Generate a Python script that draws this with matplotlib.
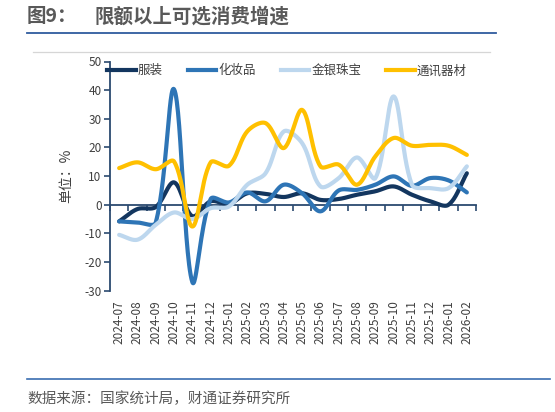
import numpy as np
import matplotlib
matplotlib.use("Agg")
from matplotlib import pyplot as plt
from matplotlib.lines import Line2D

plt.rcParams["font.family"] = ["Noto Sans CJK SC", "DejaVu Sans"]
plt.rcParams["axes.unicode_minus"] = False

# months on the x axis
months = [
    "2024-07", "2024-08", "2024-09", "2024-10", "2024-11", "2024-12",
    "2025-01", "2025-02", "2025-03", "2025-04", "2025-05", "2025-06",
    "2025-07", "2025-08", "2025-09", "2025-10", "2025-11", "2025-12",
    "2026-01", "2026-02",
]

# year-on-year growth, %
clothing = [-5.8, -1.5, -0.8, 7.8, -4.0, 1.2, 0.3, 4.0, 3.8, 2.7,
            4.0, 1.7, 2.0, 3.5, 4.7, 6.4, 3.5, 1.2, 0.0, 11.0]
cosmetics = [-5.8, -6.2, -6.2, 40.3, -27.0, 2.0, 0.8, 4.3, 1.2, 7.0,
             4.0, -2.3, 5.0, 5.2, 7.0, 9.9, 6.6, 9.3, 8.5, 4.3]
jewelry = [-10.5, -12.2, -7.0, -2.7, -5.0, -1.2, -0.6, 7.0, 11.0, 25.6,
           21.5, 6.4, 9.3, 16.5, 9.3, 37.8, 7.0, 5.8, 5.8, 13.4]
telecom = [12.8, 14.8, 12.4, 15.1, -7.6, 14.8, 13.6, 25.6, 28.5, 19.8,
           33.1, 13.4, 14.0, 7.0, 16.9, 23.3, 20.6, 20.9, 20.6, 17.4]

series = [
    ("服装", clothing, "#13365f"),
    ("化妆品", cosmetics, "#2e75b6"),
    ("金银珠宝", jewelry, "#bdd7ee"),
    ("通讯器材", telecom, "#ffc000"),
]

# rough pixel size of one category / one percent, used to weight the smoothing
PX_X, PX_Y = 18.3, 2.865


def smooth(y, n=30):
    """Excel-like smoothed line, control points weighted by segment length"""
    y = np.asarray(y, dtype=float)
    x = np.arange(len(y), dtype=float)
    pts = np.column_stack([x, y])
    padded = np.vstack([pts[0], pts, pts[-1]])
    scale = np.array([PX_X, PX_Y])

    def dist(a, b):
        return np.hypot(*((b - a) * scale)) + 1e-9

    out = []
    t = np.linspace(0, 1, n)[:, None]
    for i in range(len(pts) - 1):
        p0, p1, p2, p3 = padded[i], padded[i + 1], padded[i + 2], padded[i + 3]
        d01, d12, d23 = dist(p0, p1), dist(p1, p2), dist(p2, p3)
        c1 = p1 + (p2 - p0) * d12 / (d01 + d12) / 3
        c2 = p2 - (p3 - p1) * d12 / (d12 + d23) / 3
        seg = ((1 - t) ** 3) * p1 + 3 * ((1 - t) ** 2) * t * c1 \
            + 3 * (1 - t) * t ** 2 * c2 + t ** 3 * p2
        out.append(seg if i == 0 else seg[1:])
    out = np.vstack(out)
    return out[:, 0], out[:, 1]


fig = plt.figure(figsize=(5.55, 4.12), dpi=100)
ax = fig.add_axes([110 / 555, 121.3 / 412, 366 / 555, 229.2 / 412])

axis_color = "#2b4a6f"
text_color = "#404040"

for i, (name, vals, color) in enumerate(series):
    sx, sy = smooth(vals)
    ax.plot(sx, sy, color=color, lw=3, solid_capstyle="round", zorder=3 + i)

ymin, ymax = -30, 50
ax.set_ylim(ymin, ymax)
ax.set_xlim(-0.5, len(months) - 0.5)
ax.set_yticks(np.arange(-30, 51, 10))
ax.tick_params(axis="y", direction="out", length=4, width=1.2, color=axis_color,
               labelsize=8.5, labelcolor=text_color, pad=2)

ax.set_xticks(np.arange(len(months)))
ax.set_xticklabels(months, rotation=90, fontsize=8.5, color=text_color)
ax.tick_params(axis="x", length=0, pad=7)

for side in ["top", "right", "bottom"]:
    ax.spines[side].set_visible(False)
ax.spines["left"].set_color(axis_color)
ax.spines["left"].set_linewidth(1.3)

# category axis drawn through zero
zero_loc = (0 - ymin) / (ymax - ymin)
sec = ax.secondary_xaxis(zero_loc)
sec.set_xticks(np.arange(len(months) + 1) - 0.5)
sec.set_xticklabels([])
sec.tick_params(axis="x", direction="out", length=4, width=1.2, color=axis_color)
sec.spines["bottom"].set_color(axis_color)
sec.spines["bottom"].set_linewidth(1.3)
sec.spines["top"].set_visible(False)
sec.xaxis.set_ticks_position("bottom")

ax.set_ylabel("单位：%", fontsize=10, color=text_color, labelpad=8)

handles = [Line2D([], [], color=c, lw=3) for _, _, c in series]
leg = ax.legend(handles, [s[0] for s in series], ncol=4, loc="center left",
                bbox_to_anchor=(-0.022, 0.96), frameon=False, fontsize=9,
                handlelength=2.3, handletextpad=0.15, columnspacing=2.0,
                borderaxespad=0)
for t in leg.get_texts():
    t.set_color(text_color)

# title, rules and source
fig.text(27 / 555, 1 - 17 / 412, "图9：", fontsize=14, fontweight="bold",
         color="#595959", va="center")
fig.text(95 / 555, 1 - 17 / 412, "限额以上可选消费增速", fontsize=14,
         fontweight="bold", color="#595959", va="center")
fig.add_artist(Line2D([27 / 555, 496 / 555], [1 - 33 / 412] * 2,
                      color="#2f5c9e", lw=1.3))
fig.add_artist(Line2D([33 / 555, 490 / 555], [1 - 51.5 / 412] * 2,
                      color="#d6d6d6", lw=0.9))
fig.add_artist(Line2D([27 / 555, 550 / 555], [1 - 379.3 / 412] * 2,
                      color="#3a6db0", lw=1.2))
fig.text(27 / 555, 1 - 399 / 412, "数据来源：国家统计局，财通证券研究所",
         fontsize=10.5, color="#595959", va="center")

fig.savefig("out.png", dpi=100)
